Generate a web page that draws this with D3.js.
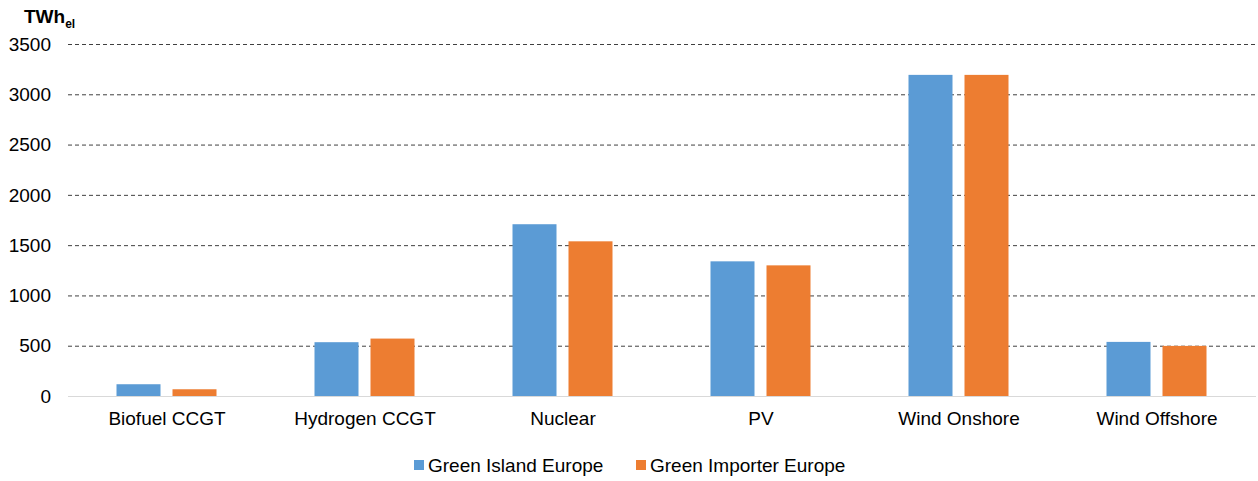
<!DOCTYPE html>
<html>
<head>
<meta charset="utf-8">
<script src="https://cdn.jsdelivr.net/npm/d3@7"></script>
<style>
  body { margin: 0; background: #fff; }
  text { font-family: "Liberation Sans", Arial, sans-serif; fill: #000; }
</style>
</head>
<body>
<div id="chart"></div>
<script>
// chart data
var categories = ["Biofuel CCGT", "Hydrogen CCGT", "Nuclear", "PV", "Wind Onshore", "Wind Offshore"];
var seriesNames = ["Green Island Europe", "Green Importer Europe"];
var greenIsland = [117, 535, 1708, 1339, 3193, 538];
var greenImporter = [67, 571, 1538, 1299, 3193, 498];
var yTicks = [0, 500, 1000, 1500, 2000, 2500, 3000, 3500];
var colors = ["#5b9bd5", "#ed7d31"];

var W = 1258, H = 481;
var margin = {top: 44, right: 2, bottom: 85, left: 68},
    w = W - margin.left - margin.right,
    h = H - margin.top - margin.bottom;

var svg = d3.select("#chart").append("svg")
  .attr("width", W)
  .attr("height", H);

var g = svg.append("g")
  .attr("transform", `translate(${margin.left},${margin.top})`);

var x = d3.scaleBand()
  .domain(categories)
  .range([0, w]);

// two bars per category, 44px wide with a 12px gap
var x1 = d3.scaleBand()
  .domain(seriesNames)
  .range([48.5, 148.5])
  .paddingInner(12 / 56);

var y = d3.scaleLinear()
  .domain([0, 3500])
  .range([h, 0]);

// dashed gridlines
g.selectAll(".grid")
  .data(yTicks.filter(d => d > 0))
  .enter().append("line")
  .attr("x1", 0).attr("x2", w)
  .attr("y1", d => y(d) + 0.5).attr("y2", d => y(d) + 0.5)
  .attr("stroke", "#404040")
  .attr("stroke-width", 1)
  .attr("stroke-dasharray", "4,3");

// y tick labels
g.selectAll(".ylab")
  .data(yTicks)
  .enter().append("text")
  .attr("x", -17)
  .attr("y", d => y(d))
  .attr("dy", "0.35em")
  .attr("text-anchor", "end")
  .style("font-size", "19px")
  .text(d => d);

var rows = categories.map((c, i) => ({cat: c, values: [greenIsland[i], greenImporter[i]]}));

var groups = g.selectAll(".cat")
  .data(rows)
  .enter().append("g")
  .attr("transform", d => `translate(${x(d.cat)},0)`);

groups.selectAll("rect")
  .data(d => d.values.map((v, j) => ({name: seriesNames[j], value: v, j: j})))
  .enter().append("rect")
  .attr("x", d => x1(d.name))
  .attr("width", x1.bandwidth())
  .attr("y", d => y(d.value))
  .attr("height", d => h - y(d.value))
  .attr("fill", d => colors[d.j]);

// zero axis line
g.append("line")
  .attr("x1", 0).attr("x2", w)
  .attr("y1", h + 0.5).attr("y2", h + 0.5)
  .attr("stroke", "#d9d9d9")
  .attr("stroke-width", 1);

// category labels
g.selectAll(".xlab")
  .data(categories)
  .enter().append("text")
  .attr("x", d => x(d) + x.bandwidth() / 2)
  .attr("y", h + 29)
  .attr("text-anchor", "middle")
  .style("font-size", "19px")
  .text(d => d);

// unit label
var unit = svg.append("text")
  .attr("x", 24)
  .attr("y", 23)
  .style("font-size", "19px")
  .style("font-weight", "bold");
unit.append("tspan").text("TWh");
unit.append("tspan")
  .attr("dy", 5)
  .style("font-size", "12px")
  .text("el");

// legend
var legendX = [414, 636];
var legend = svg.selectAll(".legend")
  .data(seriesNames)
  .enter().append("g")
  .attr("transform", (d, i) => `translate(${legendX[i]},460)`);

legend.append("rect")
  .attr("width", 10).attr("height", 10)
  .attr("fill", (d, i) => colors[i]);

legend.append("text")
  .attr("x", 14)
  .attr("y", 5)
  .attr("dy", "0.35em")
  .style("font-size", "19px")
  .text(d => d);
</script>
</body>
</html>
